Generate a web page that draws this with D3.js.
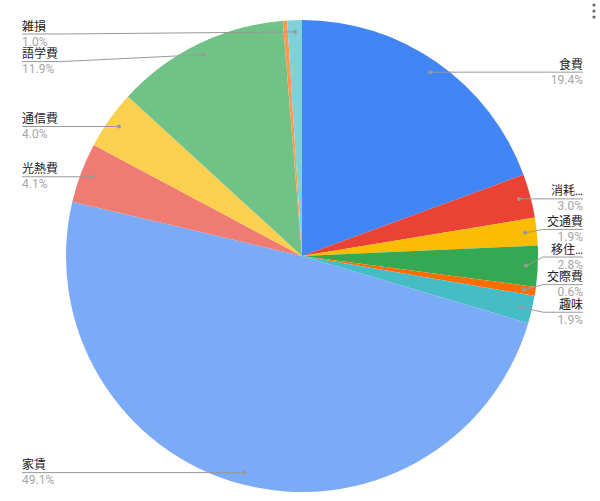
<!DOCTYPE html>
<html>
<head>
<meta charset="utf-8">
<script src="https://cdn.jsdelivr.net/npm/d3@7"></script>
<style>
  html, body { margin: 0; padding: 0; background: #fff; }
  svg { display: block; }
</style>
</head>
<body>
<svg id="chart" width="600" height="501"></svg>
<script>
// ---- data ----
const categories = ["食費", "消耗品費", "交通費", "移住関連費", "交際費", "趣味", "家賃", "光熱費", "通信費", "語学費", "その他", "雑損"];
const values = [19.4, 3.0, 1.9, 2.8, 0.6, 1.9, 49.1, 4.1, 4.0, 11.9, 0.3, 1.0];

// ---- style ----
const palette = ["#4285F4", "#EA4335", "#FBBC04", "#34A853", "#FF6D01", "#46BDC6",
                 "#7BAAF7", "#F07B72", "#FCD04F", "#71C287", "#FF994D", "#7ED1D7"];
const W = 600, H = 501;
const cx = 302, cy = 256, R = 236;
const fontFamily = "Roboto, 'Noto Sans CJK JP', sans-serif";
const lineColor = "#999999";

const svg = d3.select("#chart");
const data = categories.map((c, i) => ({ name: c, value: values[i], color: palette[i] }));
const total = d3.sum(values);

const pie = d3.pie().sort(null).value(d => d.value).startAngle(0).endAngle(2 * Math.PI);
const arcs = pie(data);
const arc = d3.arc().innerRadius(0).outerRadius(R);

const g = svg.append("g").attr("transform", `translate(${cx},${cy})`);
g.selectAll("path.slice").data(arcs).enter().append("path")
  .attr("class", "slice")
  .attr("d", arc)
  .attr("fill", d => d.data.color);

// ---- labels ----
const fmt = v => (v / total * 100).toFixed(1) + "%";
const labels = arcs.filter(a => a.data.value / total >= 0.005).map(a => {
  const mid = (a.startAngle + a.endAngle) / 2;
  const px = cx + 0.95 * R * Math.sin(mid);
  const py = cy - 0.95 * R * Math.cos(mid);
  return { a, mid, px, py, y: py, right: mid < Math.PI };
});

const spacing = 27.6, minY = 34, maxY = H - 20;
function layout(list, shift) {
  list.sort((p, q) => p.py - q.py);
  let clusters = list.map(l => ({ items: [l], mean: l.py }));
  function place(c) {
    const n = c.items.length;
    let start = c.mean - (n - 1) * spacing / 2 - (n > 1 ? shift : 0);
    if (start < minY) start = minY;
    if (start + (n - 1) * spacing > maxY) start = maxY - (n - 1) * spacing;
    c.start = start;
    c.end = start + (n - 1) * spacing;
  }
  clusters.forEach(place);
  let changed = true;
  while (changed) {
    changed = false;
    for (let i = 0; i < clusters.length - 1; i++) {
      if (clusters[i + 1].start - clusters[i].end < spacing) {
        const items = clusters[i].items.concat(clusters[i + 1].items);
        const merged = { items, mean: d3.mean(items, d => d.py) };
        place(merged);
        clusters.splice(i, 2, merged);
        changed = true;
        break;
      }
    }
  }
  clusters.forEach(c => c.items.forEach((it, k) => { it.y = c.start + k * spacing; }));
}
layout(labels.filter(l => l.right), 3);
layout(labels.filter(l => !l.right), 0);

const rightX = 583, leftX = 22;
const elbowR = cx + R + 5, elbowL = cx - R - 5;
const maxTextW = 40;

const lg = svg.append("g");
labels.forEach(l => {
  let pts;
  if (l.right) {
    pts = Math.abs(l.y - l.py) < 1 ? [[l.px, l.py], [rightX, l.y]]
      : [[l.px, l.py], [elbowR, l.y], [rightX, l.y]];
  } else {
    pts = Math.abs(l.y - l.py) < 1 ? [[l.px, l.py], [leftX, l.y]]
      : [[l.px, l.py], [elbowL, l.y], [leftX, l.y]];
  }
  lg.append("path")
    .attr("d", d3.line()(pts))
    .attr("fill", "none")
    .attr("stroke", lineColor)
    .attr("stroke-width", 1);
  lg.append("circle")
    .attr("cx", l.px).attr("cy", l.py).attr("r", 2)
    .attr("fill", lineColor);

  const anchor = l.right ? "end" : "start";
  const tx = l.right ? rightX : leftX;
  const name = lg.append("text")
    .attr("x", tx).attr("y", l.y - 3.5)
    .attr("text-anchor", anchor)
    .attr("font-family", fontFamily)
    .attr("font-size", 12)
    .attr("fill", "#222222")
    .text(l.a.data.name);
  let s = l.a.data.name;
  if (name.node().getComputedTextLength() > maxTextW) {
    while (s.length > 1) {
      s = s.slice(0, -1);
      name.text(s + "…");
      if (name.node().getComputedTextLength() <= maxTextW) break;
    }
  }
  lg.append("text")
    .attr("x", tx).attr("y", l.y + 11.5)
    .attr("text-anchor", anchor)
    .attr("font-family", fontFamily)
    .attr("font-size", 12)
    .attr("fill", "#a6a6a6")
    .text(fmt(l.a.data.value));
});

// menu icon (three dots)
svg.append("g").selectAll("circle").data([5, 11, 17]).enter().append("circle")
  .attr("cx", 594).attr("cy", d => d).attr("r", 1.6).attr("fill", "#6b6b6b");
</script>
</body>
</html>
